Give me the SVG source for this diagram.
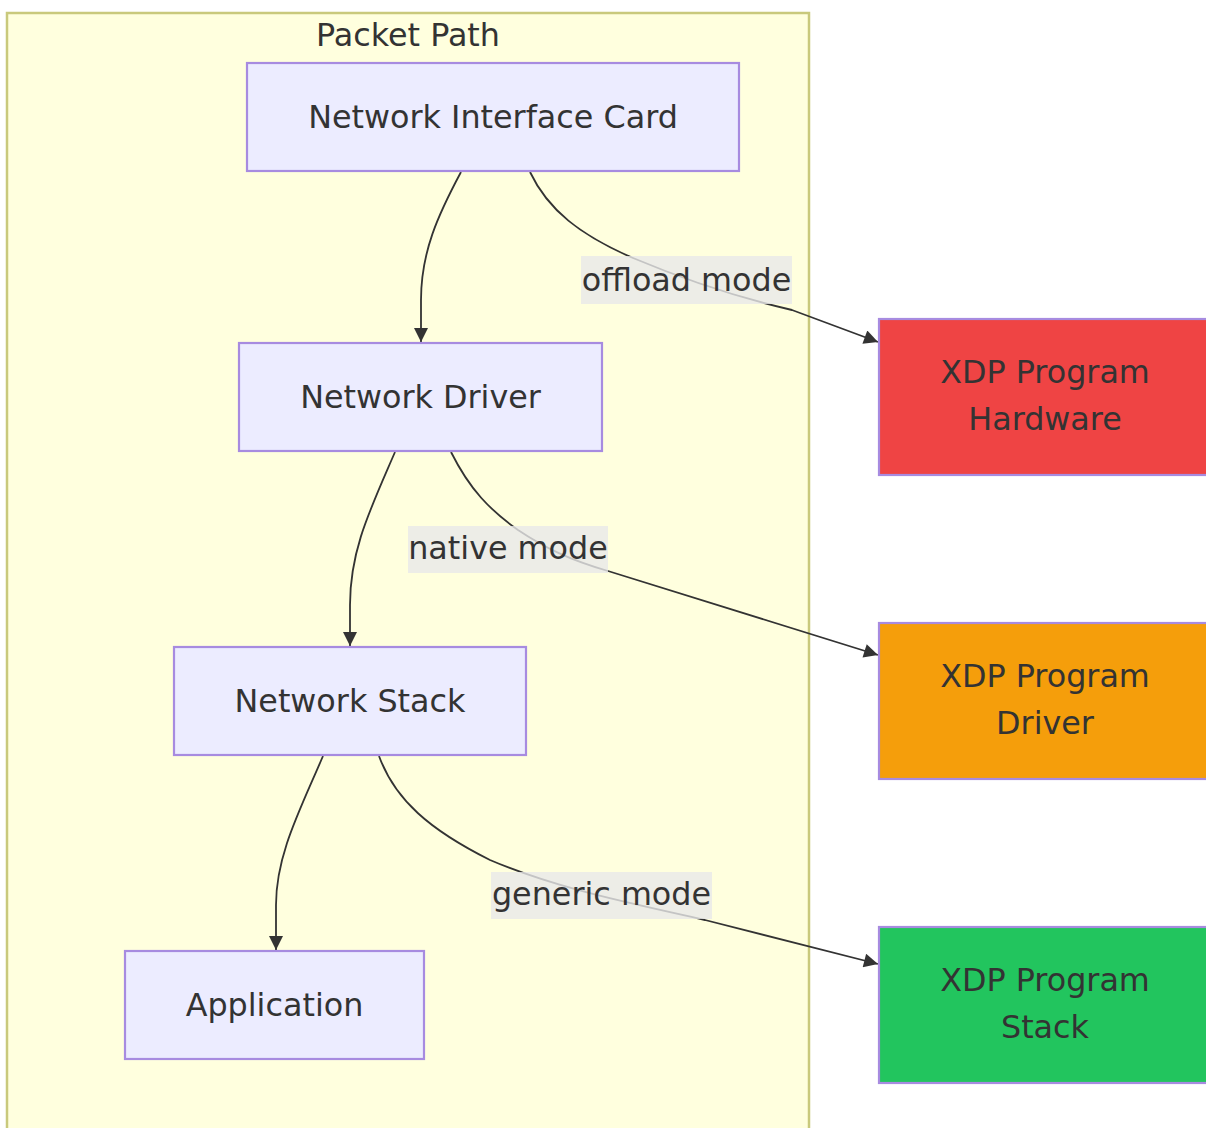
<svg xmlns="http://www.w3.org/2000/svg" width="1206" height="1128" viewBox="0 0 1206 1128">
<defs>
<style>
text{font-family:"DejaVu Sans","Verdana",sans-serif;font-size:31.8px;fill:#333333;text-anchor:middle}
.node{fill:#ECECFF;stroke:#a78be0;stroke-width:2.2}
.edge{fill:none;stroke:#333333;stroke-width:1.8}
.lbl{fill:#e8e8e8;fill-opacity:0.8}
</style>
<marker id="arrow" markerUnits="userSpaceOnUse" markerWidth="16" markerHeight="14" viewBox="0 0 10 10" refX="10" refY="5" orient="auto">
<path d="M0,0 L10,5 L0,10 z" fill="#333333"/>
</marker>
</defs>
<rect width="1206" height="1128" fill="#ffffff"/>
<g id="cluster-packet-path">
<rect x="7" y="13" width="802" height="1130" fill="#ffffde" stroke="#c9c97c" stroke-width="2.5"/>
<text x="408" y="46">Packet Path</text>
</g>
<g id="connectors">
<path class="edge" d="M461,172 C438,215 421,252 421,300 L421,342" marker-end="url(#arrow)"/>
<path class="edge" d="M530,172 C548,210 580,235 633,258 C690,282 740,298 792,310 L878,342" marker-end="url(#arrow)"/>
<path class="edge" d="M395,452 C370,510 350,550 350,605 L350,646" marker-end="url(#arrow)"/>
<path class="edge" d="M451,452 C470,490 490,510 518,530 C545,548 570,560 608,571 L878,655" marker-end="url(#arrow)"/>
<path class="edge" d="M323,756 C300,810 276,855 276,905 L276,950" marker-end="url(#arrow)"/>
<path class="edge" d="M379,756 C395,800 430,830 490,860 C560,890 640,905 705,920 L878,964" marker-end="url(#arrow)"/>
</g>
<g id="label-offload">
<rect class="lbl" x="581" y="256" width="211" height="48"/>
<text x="686.5" y="291">offload mode</text>
</g>
<g id="label-native">
<rect class="lbl" x="408" y="526" width="200" height="47"/>
<text x="508" y="559">native mode</text>
</g>
<g id="label-generic">
<rect class="lbl" x="491" y="872" width="221" height="47"/>
<text x="601.5" y="905">generic mode</text>
</g>
<g id="node-nic">
<rect class="node" x="247" y="63" width="492" height="108"/>
<text x="493" y="128">Network Interface Card</text>
</g>
<g id="node-driver">
<rect class="node" x="239" y="343" width="363" height="108"/>
<text x="420.5" y="408">Network Driver</text>
</g>
<g id="node-stack">
<rect class="node" x="174" y="647" width="352" height="108"/>
<text x="350" y="712">Network Stack</text>
</g>
<g id="node-app">
<rect class="node" x="125" y="951" width="299" height="108"/>
<text x="274.5" y="1016">Application</text>
</g>
<g id="node-xdp-hw">
<rect x="879" y="319" width="332" height="156" fill="#ef4444" stroke="#a78be0" stroke-width="2.2"/>
<text x="1045" y="383">XDP Program</text>
<text x="1045" y="430">Hardware</text>
</g>
<g id="node-xdp-drv">
<rect x="879" y="623" width="332" height="156" fill="#f59e0b" stroke="#a78be0" stroke-width="2.2"/>
<text x="1045" y="687">XDP Program</text>
<text x="1045" y="734">Driver</text>
</g>
<g id="node-xdp-stack">
<rect x="879" y="927" width="332" height="156" fill="#22c55e" stroke="#a78be0" stroke-width="2.2"/>
<text x="1045" y="991">XDP Program</text>
<text x="1045" y="1038">Stack</text>
</g>
</svg>
